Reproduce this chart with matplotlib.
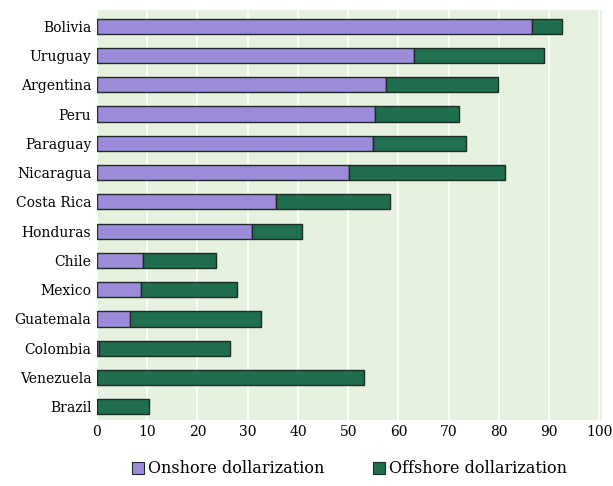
import matplotlib
matplotlib.use("Agg")
import matplotlib.pyplot as plt
from matplotlib.patches import Patch

countries = ["Bolivia", "Uruguay", "Argentina", "Peru", "Paraguay", "Nicaragua",
             "Costa Rica", "Honduras", "Chile", "Mexico", "Guatemala", "Colombia",
             "Venezuela", "Brazil"]
onshore = [86.6, 63.2, 57.6, 55.3, 54.9, 50.1, 35.7, 30.9, 9.1, 8.7, 6.6, 0.4, 0.0, 0.0]
total = [92.5, 88.9, 79.8, 72.0, 73.4, 81.2, 58.4, 40.9, 23.8, 27.8, 32.6, 26.5, 53.2, 10.3]
offshore = [t - o for t, o in zip(total, onshore)]
xticks = [0, 10, 20, 30, 40, 50, 60, 70, 80, 90, 100]

purple = "#9b8bd9"
green = "#1f6f4f"
edge = "#1c2b24"
bg = "#e6f2df"

plt.rcParams["font.family"] = ["DejaVu Serif"]

fig = plt.figure(figsize=(6.13, 4.86), dpi=100)
ax = fig.add_axes([0.158, 0.136, 0.824, 0.843])
ax.set_facecolor(bg)

y = list(range(len(countries)))
ax.barh(y, onshore, height=0.52, color=purple, edgecolor=edge, linewidth=1.0, zorder=3)
ax.barh(y, offshore, left=onshore, height=0.52, color=green, edgecolor=edge, linewidth=1.0, zorder=3)

ax.set_xlim(0, 100.5)
ax.set_ylim(len(countries) - 0.55, -0.55)
ax.set_yticks(y)
ax.set_yticklabels(countries, fontsize=10)
ax.set_xticks(xticks)
ax.set_xticklabels([str(v) for v in xticks], fontsize=10)
ax.tick_params(length=0, pad=4)
ax.xaxis.grid(True, color="white", linewidth=1.3, zorder=1)
ax.set_axisbelow(True)
for s in ax.spines.values():
    s.set_visible(False)

handles = [Patch(facecolor=purple, edgecolor=edge, linewidth=0.8, label="Onshore dollarization"),
           Patch(facecolor=green, edgecolor=edge, linewidth=0.8, label="Offshore dollarization")]
fig.legend(handles=handles, loc="lower center", bbox_to_anchor=(0.57, -0.012), ncol=2,
           frameon=False, fontsize=11.5, handlelength=0.75, handleheight=0.75,
           handletextpad=0.25, columnspacing=3.0)

fig.savefig("out.png", dpi=100, facecolor="white")
